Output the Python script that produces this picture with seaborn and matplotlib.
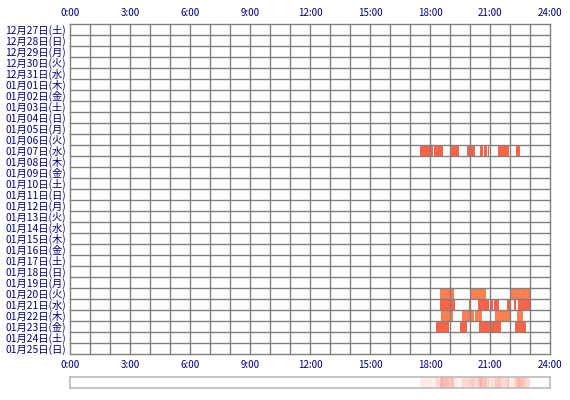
import numpy as np
import pandas as pd
import matplotlib
matplotlib.use("Agg")
import matplotlib.pyplot as plt
import seaborn as sns
from matplotlib.colors import ListedColormap, LinearSegmentedColormap

# ================================================
#  Datos
# ================================================

dias = ['12月27日(土)', '12月28日(日)', '12月29日(月)', '12月30日(火)', '12月31日(水)',
        '01月01日(木)', '01月02日(金)', '01月03日(土)', '01月04日(日)', '01月05日(月)',
        '01月06日(火)', '01月07日(水)', '01月08日(木)', '01月09日(金)', '01月10日(土)',
        '01月11日(日)', '01月12日(月)', '01月13日(火)', '01月14日(水)', '01月15日(木)',
        '01月16日(金)', '01月17日(土)', '01月18日(日)', '01月19日(月)', '01月20日(火)',
        '01月21日(水)', '01月22日(木)', '01月23日(金)', '01月24日(土)', '01月25日(日)']

horas = ['0:00', '3:00', '6:00', '9:00', '12:00', '15:00', '18:00', '21:00', '24:00']

# dias con actividad, tramos (hora inicio, hora fin) y tono del color
dias_activos = ['01月07日(水)', '01月20日(火)', '01月21日(水)', '01月22日(木)', '01月23日(金)']
tonos = [1, 2, 1, 2, 1]
tramos = [
    [(17.50, 18.13), (18.22, 18.63), (19.03, 19.47), (19.87, 20.25), (20.50, 20.67),
     (20.72, 20.83), (20.88, 20.97), (21.40, 21.97), (22.30, 22.52)],
    [(18.50, 19.20), (20.03, 20.78), (22.05, 23.00)],
    [(18.50, 19.25), (19.95, 20.00), (20.40, 20.97), (21.03, 21.13), (21.22, 21.43),
     (21.87, 22.00), (22.18, 22.32), (22.38, 23.00)],
    [(18.55, 19.13), (19.60, 20.22), (20.27, 20.60), (21.25, 22.00), (22.35, 22.63)],
    [(18.30, 18.95), (19.50, 19.83), (20.45, 21.53), (22.25, 22.28), (22.30, 22.80)],
]

# ================================================
#  Matriz por minuto
# ================================================

matriz = np.zeros((len(dias), 24 * 60))
for dia, tono, lista in zip(dias_activos, tonos, tramos):
    fila = dias.index(dia)
    for ini, fin in lista:
        matriz[fila, int(round(ini * 60)):int(round(fin * 60))] = tono

conteo = (matriz > 0).sum(axis=0)
intensidad = 1 - 0.87 ** conteo

# ================================================
#  Grafico
# ================================================

plt.rcParams['font.family'] = ['Noto Sans CJK JP', 'DejaVu Sans']
azul = '#000080'
gris = '#808080'

fig = plt.figure(figsize=(5.7, 4.0), dpi=100)
ax = fig.add_axes([70 / 570, 1 - 354 / 400, 480 / 570, 330 / 400])

cmap = ListedColormap(['white', '#ff6347', '#ff7f50'])
sns.heatmap(matriz, ax=ax, cmap=cmap, vmin=0, vmax=2, cbar=False,
            xticklabels=False, yticklabels=False)

for h in range(25):
    ax.axvline(h * 60, color=gris, lw=1.0, clip_on=False)
for r in range(len(dias) + 1):
    ax.axhline(r, color=gris, lw=1.0, clip_on=False)

ax.set_xlim(0, 24 * 60)
ax.set_ylim(len(dias), 0)
ax.set_xticks(np.arange(0, 24 * 60 + 1, 180))
ax.set_xticklabels(horas, color=azul, fontsize=7, rotation=0)
ax.set_yticks(np.arange(len(dias)) + 0.5)
ax.set_yticklabels(dias, color=azul, fontsize=7.4, rotation=0)
ax.tick_params(axis='x', top=True, labeltop=True, bottom=True, labelbottom=True,
               length=0, pad=4)
ax.tick_params(axis='y', length=0, pad=3)

# barra resumen inferior
ax2 = fig.add_axes([70 / 570, 1 - 388 / 400, 480 / 570, 11 / 400])
cmap2 = LinearSegmentedColormap.from_list('resumen', ['white', '#ff6347'])
sns.heatmap(intensidad[None, :], ax=ax2, cmap=cmap2, vmin=0, vmax=1, cbar=False,
            xticklabels=False, yticklabels=False)
for s in ax2.spines.values():
    s.set_visible(True)
    s.set_color('#bbbbbb')
    s.set_linewidth(1.2)
ax2.set_xticks([])
ax2.set_yticks([])

fig.savefig('out.png', dpi=100)
